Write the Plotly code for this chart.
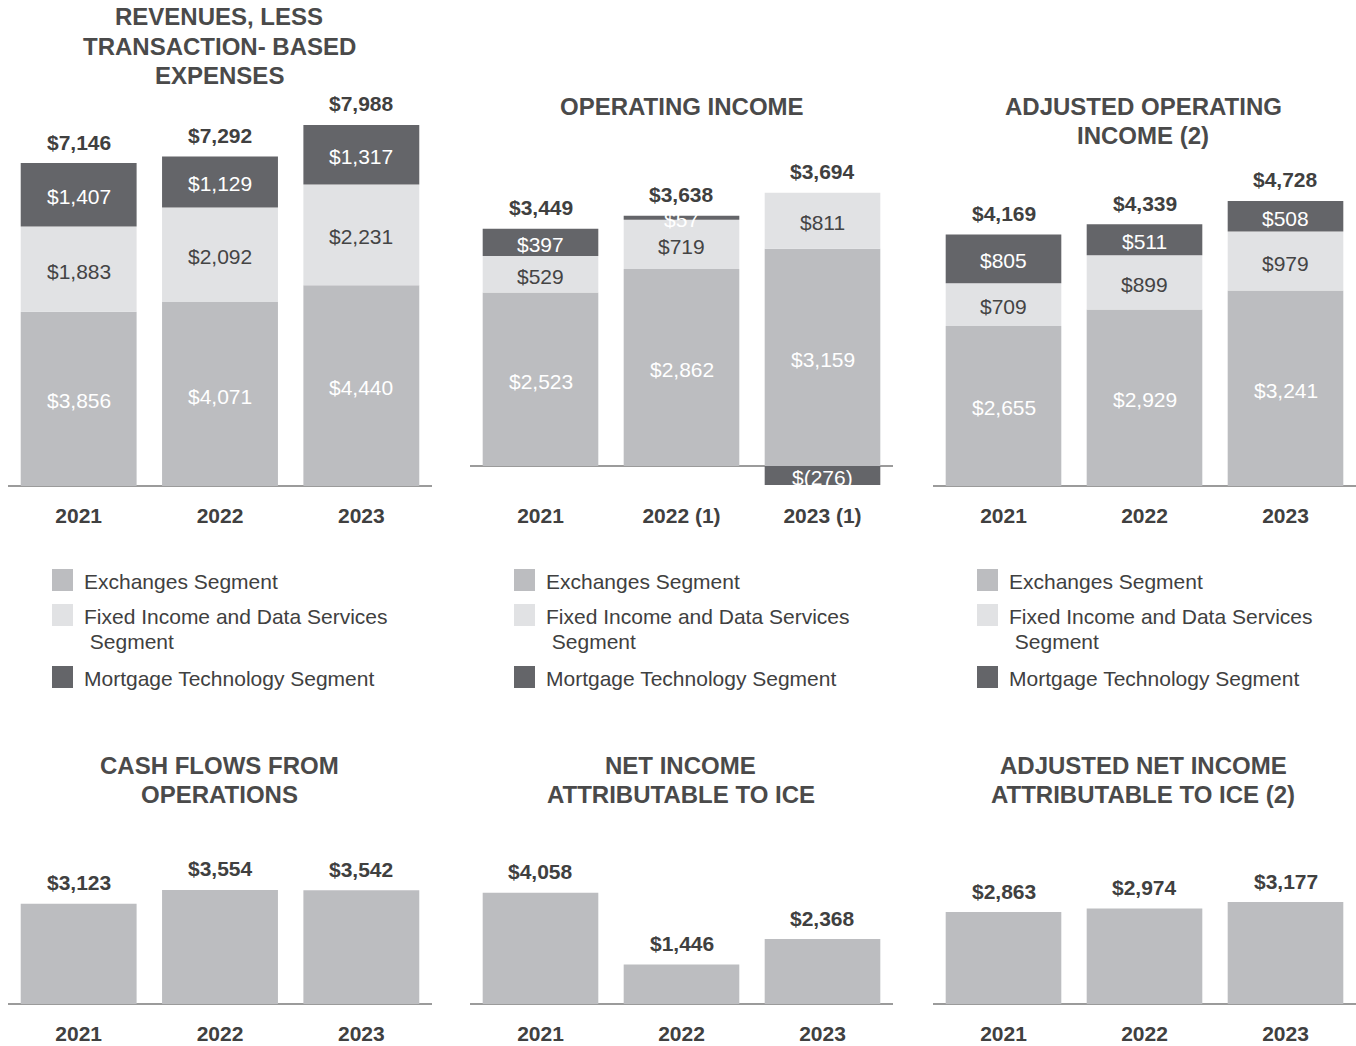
import plotly.graph_objects as go

W, H = 1356, 1046

# ---------------- data ----------------
years = ["2021", "2022", "2023"]
years_op = ["2021", "2022 (1)", "2023 (1)"]

rev_exchanges = [3856, 4071, 4440]
rev_fixed = [1883, 2092, 2231]
rev_mortgage = [1407, 1129, 1317]
rev_total = [7146, 7292, 7988]

op_exchanges = [2523, 2862, 3159]
op_fixed = [529, 719, 811]
op_mortgage = [397, 57, -276]
op_total = [3449, 3638, 3694]

adj_op_exchanges = [2655, 2929, 3241]
adj_op_fixed = [709, 899, 979]
adj_op_mortgage = [805, 511, 508]
adj_op_total = [4169, 4339, 4728]

cash_flows = [3123, 3554, 3542]
net_income = [4058, 1446, 2368]
adj_net_income = [2863, 2974, 3177]

segment_names = ["Exchanges Segment",
                 "Fixed Income and Data Services<br> Segment",
                 "Mortgage Technology Segment"]

titles = ["REVENUES, LESS<br>TRANSACTION- BASED<br>EXPENSES",
          "OPERATING INCOME",
          "ADJUSTED OPERATING<br>INCOME (2)",
          "CASH FLOWS FROM<br>OPERATIONS",
          "NET INCOME<br>ATTRIBUTABLE TO ICE",
          "ADJUSTED NET INCOME<br>ATTRIBUTABLE TO ICE (2)"]

# ---------------- styles ----------------
FONT = "Liberation Sans, Arial, sans-serif"
C_EXCH = "#bcbdc0"
C_FIXED = "#e1e2e4"
C_MORT = "#646569"
SEG_COLORS = [C_EXCH, C_FIXED, C_MORT]
SEG_TEXT = ["#ffffff", "#444444", "#ffffff"]
TXT = "#404040"
TITLE_C = "#4a4a4a"
AXIS_C = "#9b9b9b"
BAR_W = 0.82

def px_x(p):
    return p / W

def px_y(p):
    return 1 - p / H

def fmt(v):
    return f"${v:,}" if v >= 0 else f"$({-v:,})"

# panel layout: x pixel span, y pixel span (bottom, top), pixel of zero line, px per unit
panels = [
    dict(cats=years, series=[rev_exchanges, rev_fixed, rev_mortgage], totals=rev_total,
         xs=(8, 432), ys=(486, 90), zero=486, scale=0.0452, title_y=17),
    dict(cats=years_op, series=[op_exchanges, op_fixed, op_mortgage], totals=op_total,
         xs=(470, 893), ys=(486, 150), zero=466, scale=0.0688, title_y=107),
    dict(cats=years, series=[adj_op_exchanges, adj_op_fixed, adj_op_mortgage], totals=adj_op_total,
         xs=(933, 1356), ys=(486, 150), zero=486, scale=0.0603, title_y=107),
    dict(cats=years, series=[cash_flows], totals=cash_flows,
         xs=(8, 432), ys=(1004, 850), zero=1004, scale=0.0321, title_y=765),
    dict(cats=years, series=[net_income], totals=net_income,
         xs=(470, 893), ys=(1004, 850), zero=1004, scale=0.0274, title_y=765),
    dict(cats=years, series=[adj_net_income], totals=adj_net_income,
         xs=(933, 1356), ys=(1004, 850), zero=1004, scale=0.0321, title_y=765),
]
title_x = [219, 682, 1143, 219, 681, 1143]

fig = go.Figure()
annotations = []
shapes = []
layout_axes = {}

for i, p in enumerate(panels):
    n = i + 1
    xa = "x" if n == 1 else f"x{n}"
    ya = "y" if n == 1 else f"y{n}"
    xkey = "xaxis" if n == 1 else f"xaxis{n}"
    ykey = "yaxis" if n == 1 else f"yaxis{n}"

    stacked = len(p["series"]) > 1
    pos_base = [0] * 3
    neg_base = [0] * 3
    for s, vals in enumerate(p["series"]):
        fig.add_trace(go.Bar(
            x=p["cats"], y=vals, xaxis=xa, yaxis=ya,
            marker=dict(color=SEG_COLORS[s], line=dict(width=0)),
            width=BAR_W, showlegend=False, hoverinfo="x+y",
        ))
        if stacked:
            for k, v in enumerate(vals):
                if v >= 0:
                    mid = pos_base[k] + v / 2
                    pos_base[k] += v
                else:
                    mid = neg_base[k] + v / 2
                    neg_base[k] += v
                annotations.append(dict(
                    x=k, y=mid, xref=xa, yref=ya, text=fmt(v), yshift=-2,
                    showarrow=False, font=dict(family=FONT, size=21, color=SEG_TEXT[s]),
                    xanchor="center", yanchor="middle"))
        else:
            for k, v in enumerate(vals):
                pos_base[k] += max(v, 0)

    # totals above bars
    for k, t in enumerate(p["totals"]):
        annotations.append(dict(
            x=k, y=pos_base[k], xref=xa, yref=ya, text=fmt(t),
            showarrow=False, yshift=21, yanchor="middle", xanchor="center",
            font=dict(family=FONT, size=21, color=TXT, weight="bold")))

    # axes
    ybot, ytop = p["ys"]
    rmin = -(ybot - p["zero"]) / p["scale"]
    rmax = (p["zero"] - ytop) / p["scale"]
    layout_axes[xkey] = dict(
        domain=[px_x(p["xs"][0]), px_x(p["xs"][1])], anchor=ya,
        type="category", range=[-0.5, 2.5], showgrid=False, showline=False,
        zeroline=False, ticks="", ticklabelstandoff=15, fixedrange=True,
        tickfont=dict(family=FONT, size=21, color=TXT, weight="bold"))
    layout_axes[ykey] = dict(
        domain=[px_y(ybot), px_y(ytop)], anchor=xa, range=[rmin, rmax],
        showgrid=False, showline=False, showticklabels=False, ticks="",
        zeroline=True, zerolinecolor=AXIS_C, zerolinewidth=2, fixedrange=True)

    # titles, one annotation per line for exact line spacing
    for li, line in enumerate(titles[i].split("<br>")):
        annotations.append(dict(
            x=px_x(title_x[i]), y=px_y(p["title_y"] + li * 29), xref="paper", yref="paper",
            text=line, showarrow=False, xanchor="center", yanchor="middle",
            font=dict(family=FONT, size=24, color=TITLE_C, weight="bold")))

    # legends for the stacked panels
    if stacked:
        x0 = p["xs"][0]
        rows = [580, 615, 677]
        for s, name in enumerate(segment_names):
            cy = rows[s]
            shapes.append(dict(
                type="rect", xref="paper", yref="paper",
                x0=px_x(x0 + 44), x1=px_x(x0 + 65),
                y0=px_y(cy - 11), y1=px_y(cy + 11),
                fillcolor=SEG_COLORS[s], line=dict(width=0)))
            for li, line in enumerate(name.split("<br>")):
                annotations.append(dict(
                    x=px_x(x0 + 74), y=px_y(cy + 1 + li * 25), xref="paper", yref="paper",
                    text=line, showarrow=False, xanchor="left", yanchor="middle",
                    font=dict(family=FONT, size=21, color=TXT)))

fig.update_layout(
    width=W, height=H, autosize=False,
    margin=dict(l=0, r=0, t=0, b=0),
    paper_bgcolor="white", plot_bgcolor="white",
    barmode="relative", showlegend=False,
    annotations=annotations, shapes=shapes,
    **layout_axes,
)

fig.write_html("out.html", config={"displayModeBar": False},
               post_script="document.body.style.margin='0';")
